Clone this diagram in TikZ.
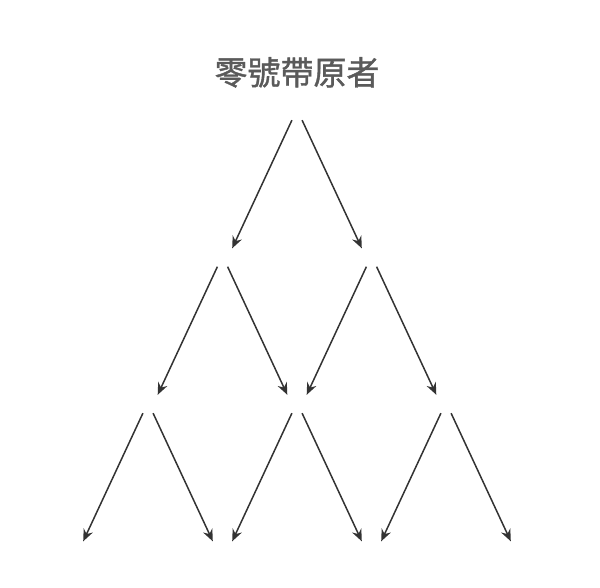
\documentclass[tikz,border=0pt]{standalone}
\usepackage{fontspec}
\newfontfamily\cjk[FakeBold=1.2]{Noto Sans CJK TC}
\usetikzlibrary{arrows.meta}

\definecolor{ink}{HTML}{333333}
\definecolor{titlegray}{HTML}{5A5A5A}

\tikzset{
  pt/.style={rectangle, minimum width=19pt, minimum height=18pt, inner sep=0pt},
  title/.style={font=\cjk\fontsize{33}{36}\selectfont, text=titlegray, inner sep=0pt},
  arr/.style={draw=ink, line width=1.5pt, -{Stealth[length=12pt,width=10pt,inset=4pt]}}
}

\begin{document}
\begin{tikzpicture}[x=1pt, y=-1pt]
  \useasboundingbox (0,0) rectangle (600,588);

  \foreach \l in {0,...,3} {
    \foreach \k in {0,...,\l} {
      \node[pt] (n\l\k) at ({297+74.5*(2*\k-\l)}, {111+146.5*\l}) {};
    }
  }
  \node[title, above=14pt] at (n00.north) {零號帶原者};

  \foreach \l [evaluate=\l as \m using int(\l+1)] in {0,1,2} {
    \foreach \k [evaluate=\k as \j using int(\k+1)] in {0,...,\l} {
      \draw[arr] (n\l\k.-119) -- (n\m\k.north east);
      \draw[arr] (n\l\k.-61) -- (n\m\j.north west);
    }
  }
\end{tikzpicture}
\end{document}
